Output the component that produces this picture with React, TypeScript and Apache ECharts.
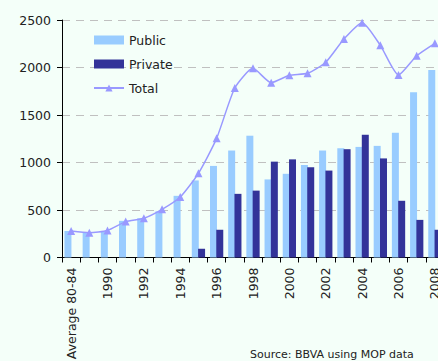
import React, { useEffect, useRef } from "react";
import * as echarts from "echarts";

const categories = ["Average 80-84", "1989", "1990", "1991", "1992", "1993", "1994", "1995", "1996", "1997", "1998", "1999", "2000", "2001", "2002", "2003", "2004", "2005", "2006", "2007", "2008"];
const publicValues = [279, 261, 270, 386, 413, 485, 649, 811, 964, 1126, 1282, 822, 881, 974, 1126, 1150, 1164, 1175, 1313, 1739, 1974];
const privateValues = [0, 0, 0, 0, 0, 0, 0, 92, 292, 670, 704, 1009, 1033, 950, 915, 1140, 1292, 1043, 597, 396, 292];
const totalValues = [279, 261, 285, 378, 413, 507, 637, 886, 1254, 1784, 1991, 1840, 1918, 1939, 2055, 2300, 2472, 2233, 1921, 2124, 2255];
const yTicks = { min: 0, max: 2500, interval: 500 };
const sourceText = "Source: BBVA using MOP data";

const FONT = "DejaVu Sans";
const TEXT = "#222222";

export default function App() {
  const ref = useRef<HTMLDivElement>(null);
  useEffect(() => {
    if (!ref.current) return;
    const chart = echarts.init(ref.current, null, { renderer: "svg" });
    chart.setOption({
      animation: false,
      backgroundColor: "#F4FFF9",
      textStyle: { fontFamily: FONT, color: TEXT },
      grid: { left: 62, top: 20, bottom: 103.5, width: 382, outerBoundsMode: "none", containLabel: false },
      legend: {
        orient: "vertical",
        left: 93,
        top: 33,
        padding: 0,
        itemWidth: 30,
        itemHeight: 9,
        itemGap: 10,
        textStyle: { fontFamily: FONT, fontSize: 12.5, color: TEXT, lineHeight: 14 },
        data: [
          { name: "Public", icon: "rect" },
          { name: "Private", icon: "rect" },
          { name: "Total" },
        ],
      },
      xAxis: {
        type: "category",
        data: categories,
        boundaryGap: true,
        axisLine: { lineStyle: { color: "#000", width: 1 } },
        axisTick: { show: true, interval: 0, length: 5, lineStyle: { color: "#000" } },
        axisLabel: {
          interval: 1,
          rotate: 90,
          margin: 10,
          fontFamily: FONT,
          fontSize: 12.5,
          color: TEXT,
        },
      },
      yAxis: {
        type: "value",
        min: yTicks.min,
        max: yTicks.max,
        interval: yTicks.interval,
        axisLine: { show: true, lineStyle: { color: "#000", width: 1 } },
        axisTick: { show: true, length: 5, lineStyle: { color: "#000" } },
        axisLabel: {
          margin: 11,
          fontFamily: FONT,
          fontSize: 12.5,
          color: TEXT,
          formatter: (v: number) => String(v),
        },
        splitLine: { show: true, lineStyle: { color: "#C0C0C0", type: [8, 6], width: 1 } },
      },
      series: [
        {
          name: "Public",
          type: "bar",
          data: publicValues,
          barWidth: 7,
          barGap: "-10%",
          itemStyle: { color: "#99CCFF" },
        },
        {
          name: "Private",
          type: "bar",
          data: privateValues,
          barWidth: 7,
          barGap: "-10%",
          itemStyle: { color: "#333399" },
        },
        {
          name: "Total",
          type: "line",
          data: totalValues,
          smooth: 0.2,
          symbol: "triangle",
          symbolSize: 8,
          lineStyle: { color: "#9999FF", width: 1.5 },
          itemStyle: { color: "#9999FF" },
          z: 5,
        },
      ],
      graphic: [
        {
          type: "text",
          left: 250,
          top: 349,
          style: { text: sourceText, font: `11px "${FONT}"`, fill: TEXT },
        },
      ],
    });
    return () => chart.dispose();
  }, []);
  return <div ref={ref} style={{ position: "fixed", left: 0, top: 0, width: 438, height: 361 }} />;
}
